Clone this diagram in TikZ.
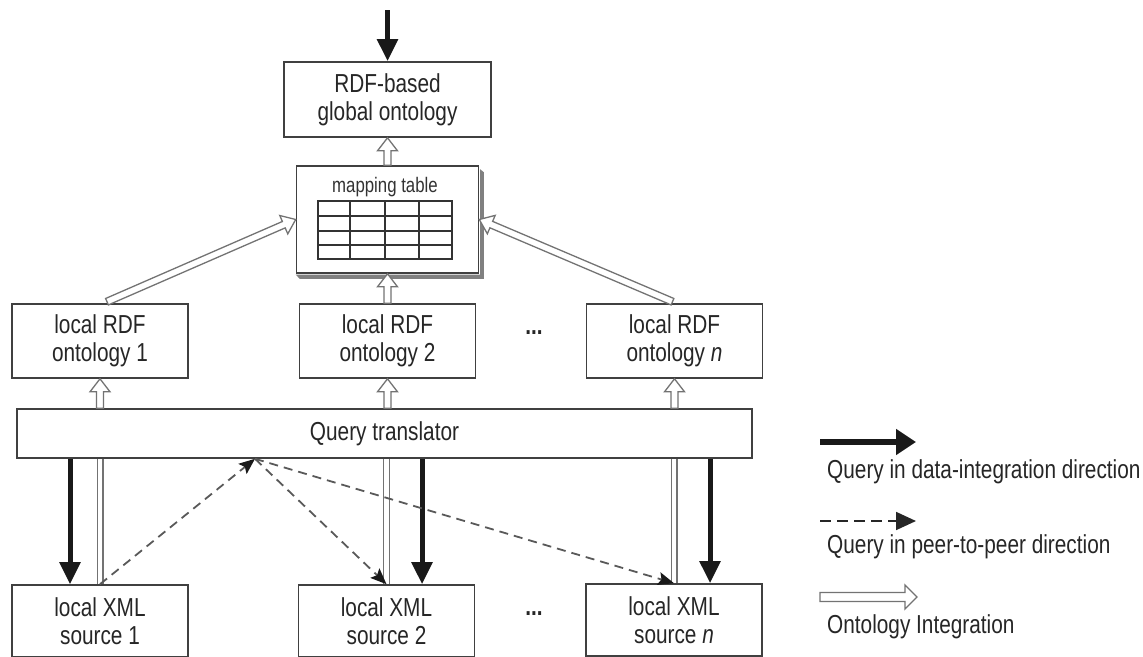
\documentclass[tikz,border=0pt]{standalone}
\usepackage{fontspec}
\setmainfont{Liberation Sans}[FakeStretch=0.8]
\usetikzlibrary{arrows.meta,calc}
% hollow arrow: start, end, shaft half width, head half width, head length
\newcommand\hollowarr[5]{%
  \path ($(#2)!#5!(#1)$) coordinate (hh);
  \filldraw[hollow] ($(#1)!#3!90:(#2)$) -- ($(hh)!#3!90:(#2)$) -- ($(hh)!#4!90:(#2)$) -- (#2)
     -- ($(hh)!#4!-90:(#2)$) -- ($(hh)!#3!-90:(#2)$) -- ($(#1)!#3!-90:(#2)$) -- cycle;}
\begin{document}
\begin{tikzpicture}[x=1pt,y=-1pt,
  box/.style={draw=black!75, line width=1.6pt, fill=white, text=black!85, align=center,
    font=\fontsize{26}{28}\selectfont, inner sep=0pt},
  legtext/.style={text=black!85, font=\fontsize{26}{28}\selectfont, inner sep=0pt, anchor=base west},
  hollow/.style={fill=white, draw=black!55, line width=1.3pt, line join=miter},
  hshaft/.style={draw=black!55, line width=1.3pt, double=white, double distance=4.4pt},
  thickarr/.style={draw=black!90, line width=5pt, -{Triangle[length=22pt,width=20pt]}},
  dasharr/.style={draw=black!65, line width=1.8pt, dash pattern=on 9pt off 6pt,
    -{Stealth[length=16pt,width=13pt,inset=3pt,color=black!90]}}
]
\useasboundingbox (0,0) rectangle (1143,656);
\clip (0,0) rectangle (1143,656);

% boxes
\node[box, minimum width=207pt, minimum height=75pt] (glob) at (387.5,99.5) {RDF-based\\global ontology};
\node[box, minimum width=182pt, minimum height=107pt] (map) at (387.5,219.5) {};
\fill[black!50] ($(map.north east)+(0.8,4)$) -- ($(map.north east)+(4.5,7)$) -- ($(map.south east)+(4.5,5)$)
   -- ($(map.south west)+(4,5)$) -- ($(map.south west)+(0,0.8)$) -- ($(map.south east)+(0.8,0.8)$) -- cycle;
\node[font=\fontsize{21}{24}\selectfont, text=black!80, anchor=base, inner sep=0pt] (mt) at (385,192) {mapping table};
\draw[black!80, line width=1.5pt] (318,201) rectangle (452,259);
\draw[black!80, line width=1.5pt] (350,201) -- (350,259) (385,201) -- (385,259) (419,201) -- (419,259)
   (318,216) -- (452,216) (318,231) -- (452,231) (318,245) -- (452,245);

\node[box, minimum width=176pt, minimum height=74pt] (ont1) at (100,341) {local RDF\\ontology 1};
\node[box, minimum width=176pt, minimum height=74pt] (ont2) at (387.5,341) {local RDF\\ontology 2};
\node[box, minimum width=176pt, minimum height=74pt] (ontn) at (674.5,341) {local RDF\\ontology \textit{n}};
\node[font=\bfseries\fontsize{26}{28}\selectfont, text=black!85, inner sep=0pt] (dots1) at (534,333) {...};

\node[box, minimum width=735pt, minimum height=49pt] (qt) at (384.5,433.5) {Query translator};

\node[box, minimum width=176pt, minimum height=72pt] (s1) at (100,621) {local XML\\source 1};
\node[box, minimum width=176pt, minimum height=72pt] (s2) at (386.5,621) {local XML\\source 2};
\node[box, minimum width=176pt, minimum height=72pt] (sn) at (674,620) {local XML\\source \textit{n}};
\node[font=\bfseries\fontsize{26}{28}\selectfont, text=black!85, inner sep=0pt] (dots2) at (534,614) {...};

% top input arrow
\coordinate (inp) at (387.5,10);
\draw[thickarr] (inp) -- (glob.north);

% ontology integration arrows
\hollowarr{map.north}{glob.south}{3.5pt}{10pt}{13pt}
\hollowarr{ont2.north}{map.south}{3.5pt}{10pt}{13pt}
\coordinate (d1) at ($(ont1.north)+(7,-1.5)$);
\coordinate (dn) at ($(ontn.north)+(-2,-1.5)$);
\hollowarr{d1}{map.west}{3.5pt}{10pt}{13pt}
\hollowarr{dn}{map.east}{3.5pt}{10pt}{13pt}

\coordinate (t1) at (ont1.south |- qt.north);
\coordinate (t2) at (ont2.south |- qt.north);
\coordinate (tn) at (ontn.south |- qt.north);
\hollowarr{t1}{ont1.south}{3.5pt}{10pt}{13pt}
\hollowarr{t2}{ont2.south}{3.5pt}{10pt}{13pt}
\hollowarr{tn}{ontn.south}{3.5pt}{10pt}{13pt}

\draw[hshaft] (s1.north) -- (s1.north |- qt.south);
\draw[hshaft] (s2.north) -- (s2.north |- qt.south);
\draw[hshaft] (sn.north) -- (sn.north |- qt.south);

% data-integration queries
\coordinate (b1) at ($(s1.north)+(-30,0)$);
\coordinate (b2) at ($(s2.north)+(35.5,0)$);
\coordinate (bn) at ($(sn.north)+(36,0)$);
\draw[thickarr] (b1 |- qt.south) -- (b1);
\draw[thickarr] (b2 |- qt.south) -- (b2);
\draw[thickarr] (bn |- qt.south) -- (bn);

% peer-to-peer queries
\coordinate (pp) at (255,0 |- qt.south);
\draw[dasharr] (s1.north) -- (pp);
\draw[dasharr] (pp) -- (s2.north);
\draw[dasharr] (pp) -- (sn.north);

% legend
\coordinate (la1) at (820,442);
\coordinate (la2) at (916,442);
\draw[thickarr, line width=6pt, -{Triangle[length=20pt,width=25pt]}] (la1) -- (la2);
\node[legtext] (lt1) at (827,478) {Query in data-integration direction};
\coordinate (lb1) at (820,521);
\coordinate (lb2) at (916,521);
\draw[draw=black!85, line width=1.8pt, dash pattern=on 11pt off 6pt, -{Triangle[length=20pt,width=18pt]}] (lb1) -- (lb2);
\node[legtext] (lt2) at (827,553) {Query in peer-to-peer direction};
\coordinate (lc1) at (820,597);
\coordinate (lc2) at (917,597);
\hollowarr{lc1}{lc2}{4.5pt}{12pt}{12pt}
\node[legtext] (lt3) at (827,633) {Ontology Integration};
\end{tikzpicture}
\end{document}
